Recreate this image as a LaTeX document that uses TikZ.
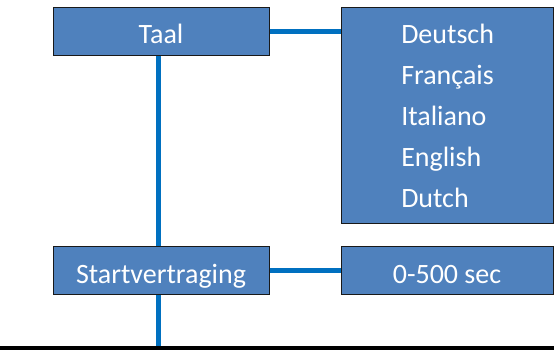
\documentclass[tikz,border=0pt]{standalone}
\usepackage{fontspec}
\setmainfont{Carlito}
\definecolor{vakblauw}{RGB}{79,129,189}
\definecolor{lijnblauw}{RGB}{0,112,192}
\tikzset{
  menubox/.style={draw=black!90, line width=0.75pt, fill=vakblauw, text=white, inner sep=0pt,
    font=\fontsize{21}{25}\selectfont, text height=19pt, text depth=0pt},
  taaltekst/.style={anchor=base west, inner sep=0pt, text=white, font=\fontsize{21}{25}\selectfont},
  verbinding/.style={draw=lijnblauw, line width=3.75pt}
}
\begin{document}
\begin{tikzpicture}[x=0.75pt,y=0.75pt,yscale=-1,xscale=1]
			\useasboundingbox (0,0) rectangle (554,350);
			%Coordinates for the free line ends
			\coordinate (onder) at (158.5,350);
			\coordinate (links) at (0,348);
			\coordinate (rechts) at (554,348);

			% Boxes
			\node [menubox, minimum width=162pt, minimum height=36pt] (taal) at (161,31) {Taal};
			\node [menubox, minimum width=159pt, minimum height=162pt] (talen) at (447,115) {};
			\node [menubox, minimum width=162pt, minimum height=36pt] (start) at (161,270.5) {Startvertraging};
			\node [menubox, minimum width=159pt, minimum height=36pt] (sec) at (447,270.5) {0-500 sec};

			%Straight Lines
			\draw [verbinding] (taal.south -| onder) -- (start.north -| onder);
			\draw [verbinding] (start.south -| onder) -- (onder);
			\draw [black, line width=2.6pt] (links) -- (rechts);
			\draw [verbinding] (taal.east) -- (taal.east -| talen.west);
			\draw [verbinding] (start) -- (sec);

			% Text Node
			\foreach \taal [count=\i] in {Deutsch,Français,Italiano,English,Dutch}
			  \node [taaltekst] (taal\i) at (401,{43+41*(\i-1)}) {\taal};
		\end{tikzpicture}
\end{document}
